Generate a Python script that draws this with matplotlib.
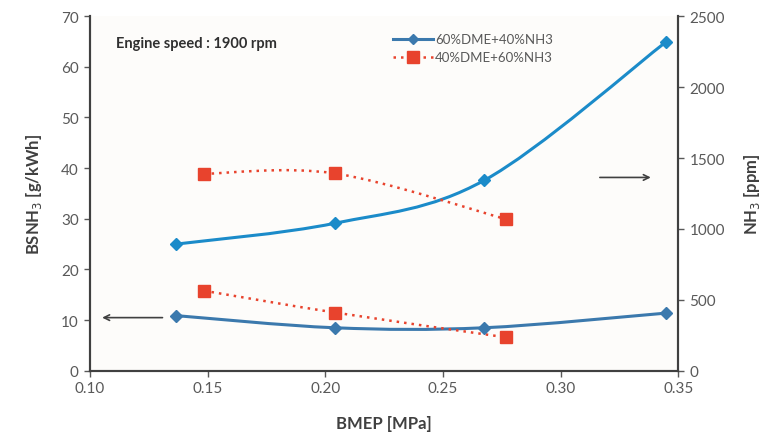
import numpy as np
import matplotlib
matplotlib.use('Agg')
import matplotlib.pyplot as plt
from matplotlib.path import Path
from matplotlib.patches import PathPatch
from matplotlib.lines import Line2D

plt.rcParams['font.family'] = ['Lato', 'DejaVu Sans']

# data
bmep_a = [0.1365, 0.204, 0.2675, 0.345]        # 60%DME+40%NH3
bmep_b = [0.1485, 0.2042, 0.277]               # 40%DME+60%NH3
bsnh3_a = [10.9, 8.5, 8.5, 11.4]               # g/kWh, left axis
bsnh3_b = [15.8, 11.5, 6.6]
ppm_a = [893, 1040, 1342, 2321]                # ppm, right axis
ppm_b = [1389, 1391, 1068]

blue_hi = '#1b8bc9'
blue_lo = '#3b79ad'
red = '#e8432d'
grey = '#595959'


def smooth_path(x, y):
    # Excel-like smoothed line as cubic bezier segments
    pts = np.column_stack([x, y]).astype(float)
    n = len(pts)
    verts = [pts[0]]
    codes = [Path.MOVETO]
    for i in range(n - 1):
        p0 = pts[i - 1] if i > 0 else pts[i]
        p1 = pts[i]
        p2 = pts[i + 1]
        p3 = pts[i + 2] if i + 2 < n else pts[i + 1]
        c1 = p1 + (p2 - p0) / 6.0
        c2 = p2 - (p3 - p1) / 6.0
        verts += [c1, c2, p2]
        codes += [Path.CURVE4] * 3
    return Path(verts, codes)


def draw(ax, x, y, color, ls, lw, marker, ms):
    ax.add_patch(PathPatch(smooth_path(x, y), fill=False, edgecolor=color,
                           lw=lw, linestyle=ls, zorder=3))
    ax.plot(x, y, linestyle='none', marker=marker, color=color, ms=ms, zorder=4)


fig = plt.figure(figsize=(7.69, 4.39), dpi=100)
fig.patch.set_facecolor('white')
ax = fig.add_axes([0.117, 0.153, 0.765, 0.808])
ax.set_facecolor('#fdfcfa')
ax2 = ax.twinx()

dots = (0, (1, 2))
draw(ax, bmep_a, bsnh3_a, blue_lo, '-', 2.2, 'D', 6)
draw(ax, bmep_b, bsnh3_b, red, dots, 1.8, 's', 9)
draw(ax2, bmep_a, ppm_a, blue_hi, '-', 2.2, 'D', 6)
draw(ax2, bmep_b, ppm_b, red, dots, 1.8, 's', 9)

ax.set_xlim(0.10, 0.35)
ax.set_ylim(0, 70)
ax2.set_ylim(0, 2500)
ax.set_xticks(np.arange(0.10, 0.351, 0.05))
ax.set_xticklabels(['%.2f' % v for v in np.arange(0.10, 0.351, 0.05)])
ax.set_yticks(range(0, 71, 10))
ax2.set_yticks(range(0, 2501, 500))

for a in (ax, ax2):
    a.spines['top'].set_visible(False)
    for s in a.spines.values():
        s.set_color('#404040')
        s.set_linewidth(1.5)
    a.tick_params(colors=grey, labelsize=11, length=4, width=1, labelcolor=grey)
ax.tick_params(axis='y', pad=4)
ax2.tick_params(axis='y', pad=4)

ax.set_xlabel('BMEP [MPa]', fontsize=12, fontweight='bold', color='#404040', labelpad=14)
ax.set_ylabel('BSNH$_3$ [g/kWh]', fontsize=12, fontweight='bold', color='#404040', labelpad=12)
ax2.set_ylabel('NH$_3$ [ppm]', fontsize=12, fontweight='bold', color='#404040', labelpad=12)

ax.text(0.045, 0.925, 'Engine speed : 1900 rpm', transform=ax.transAxes,
        fontsize=10.5, fontweight='bold', color='#303030', va='center')

# direction arrows
ax.annotate('', xy=(0.104, 10.5), xytext=(0.132, 10.5),
            arrowprops=dict(arrowstyle='->', color='#404040', lw=1.2))
ax2.annotate('', xy=(0.3395, 1363), xytext=(0.3155, 1363),
             arrowprops=dict(arrowstyle='->', color='#404040', lw=1.2))

handles = [Line2D([], [], color=blue_lo, lw=2.2, marker='D', ms=5),
           Line2D([], [], color=red, lw=1.8, ls=dots, marker='s', ms=9)]
leg = ax2.legend(handles, ['60%DME+40%NH3', '40%DME+60%NH3'], loc='upper left',
                 bbox_to_anchor=(0.495, 0.985), frameon=False, fontsize=9.5,
                 handlelength=3, handletextpad=0.2, labelspacing=0.45)
for t in leg.get_texts():
    t.set_color(grey)

fig.savefig('out.png', dpi=100)
